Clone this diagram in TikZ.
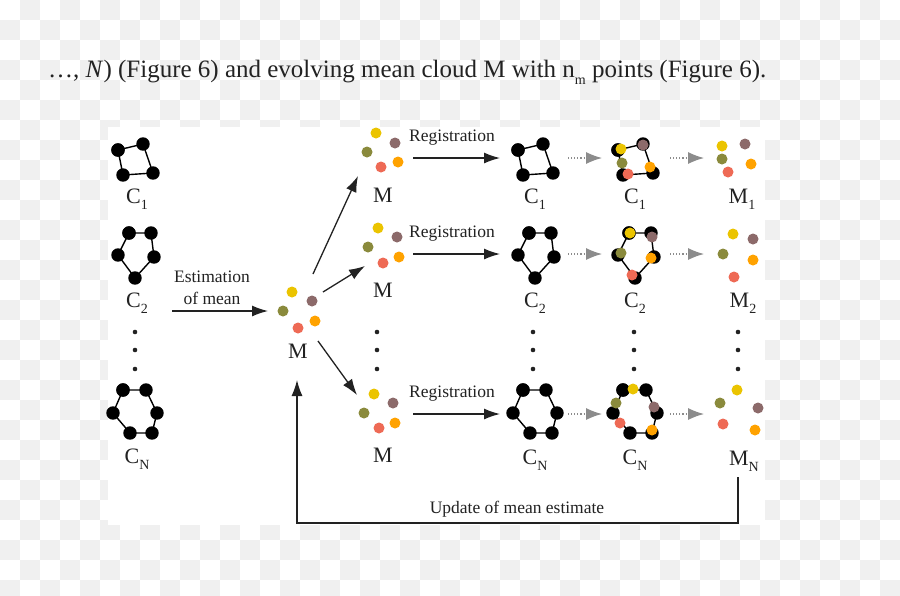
\documentclass[tikz,border=0pt]{standalone}
\usepackage{fontspec}
\setmainfont{Liberation Serif}
\usetikzlibrary{arrows.meta}
\definecolor{ink}{HTML}{222222}
\definecolor{chk}{HTML}{F0F0F0}
\definecolor{ptyellow}{HTML}{EBC400}
\definecolor{ptbrown}{HTML}{8C6A6A}
\definecolor{ptolive}{HTML}{8A8A3C}
\definecolor{ptorange}{HTML}{FFA200}
\definecolor{ptred}{HTML}{EE6A55}
\definecolor{dotgray}{HTML}{8C8C8C}
% lowered subscript
\newcommand{\lowsub}[1]{\raisebox{-0.3em}{\fontsize{14}{14}\selectfont #1}}
% five points of a cloud: yellow, brown, olive, orange, red
\newcommand{\ptcloud}[5]{%
  \fill[ptyellow] #1 circle (5.5);
  \fill[ptbrown] #2 circle (5.5);
  \fill[ptolive] #3 circle (5.5);
  \fill[ptorange] #4 circle (5.5);
  \fill[ptred] #5 circle (5.5);}
% closed contour with black points
\newcommand{\contour}[1]{%
  \draw[ringline] plot[mark=*,mark size=6pt,mark options={solid,fill=black,draw=black}] coordinates {#1};}
\newcommand{\sqpts}{(118,150) (143,144) (153,173) (123,175) (118,150)}
\newcommand{\pentpts}{(129,233) (151,233) (154,257) (135,278) (118,255) (129,233)}
\newcommand{\hexpts}{(123,390) (146,390) (157,413) (152,433) (130,433) (113,413) (123,390)}
\begin{document}
\begin{tikzpicture}[x=1pt,y=-1pt]
\tikzstyle{lbl}=[text=ink,font=\fontsize{22}{22}\selectfont,anchor=base,inner sep=0pt]
\tikzstyle{txt}=[text=ink,font=\fontsize{17.5}{22}\selectfont,inner sep=0pt,align=center]
\tikzstyle{arr}=[draw=ink,line width=1.3pt,-{Latex[length=16pt,width=11pt]}]
\tikzstyle{grayarr}=[draw=dotgray,dotted,line width=1.1pt,-{Latex[length=16pt,width=12pt]}]
\tikzstyle{ringline}=[draw=black,line width=1.4pt]
\tikzstyle{back}=[draw=ink,line width=1.3pt]
\clip (0,0) rectangle (900,595);
% checkered background
\foreach \i in {0,...,44} \foreach \j in {0,...,29} {
  \pgfmathtruncatemacro{\odd}{mod(\i+\j,2)}
  \ifnum\odd=1 \fill[chk] (\i*20,\j*20) rectangle ++(20,20); \fi}
\fill[white] (108,127) rectangle (765,525);
\node[anchor=base west,text=ink,font=\fontsize{25}{25}\selectfont,inner sep=0pt] (caption) at (48,77)
  {\dots, \textit{N}) (Figure 6) and evolving mean cloud M with n\lowsub{m} points (Figure 6).};

% input contours
\contour{\sqpts}
\contour{\pentpts}
\contour{\hexpts}
\node[lbl] (c1) at (137,203) {C\lowsub{1}};
\node[lbl] (c2) at (137,307) {C\lowsub{2}};
\node[lbl] (cn) at (137,463) {C\lowsub{N}};

% mean estimate
\ptcloud{(292,292)}{(312,301)}{(283,311)}{(315,321)}{(298,328)}
\node[lbl] (m0) at (298,358) {M};
\coordinate (est-in) at (172,311);
\coordinate (m0-w) at (268,311);
\node[txt] (esttext) at (212,288) {Estimation\\of mean};
\draw[arr] (est-in) -- (m0-w);

% copies of M
\ptcloud{(376,133)}{(395,143)}{(367,152)}{(398,162)}{(381,167)}
\ptcloud{(378,228)}{(397,237)}{(368,247)}{(399,257)}{(383,263)}
\ptcloud{(374,394)}{(393,403)}{(364,413)}{(395,423)}{(379,428)}
\node[lbl] (m1) at (383,202) {M};
\node[lbl] (m2) at (383,297) {M};
\node[lbl] (mn) at (383,462) {M};
\coordinate (m0-n) at (313,274);
\coordinate (m0-ne) at (323,292);
\coordinate (m0-se) at (318,341);
\coordinate (m1-sw) at (358,176);
\coordinate (m2-sw) at (365,266);
\coordinate (mn-nw) at (357,395);
\draw[arr] (m0-n) -- (m1-sw);
\draw[arr] (m0-ne) -- (m2-sw);
\draw[arr] (m0-se) -- (mn-nw);

% registration
\foreach \r/\y in {1/158,2/254,n/414} {
  \coordinate (reg\r-a) at (413,\y);
  \coordinate (reg\r-b) at (500,\y);
  \node[txt] (regtext\r) at (452,\y-20) {Registration};
  \draw[arr] (reg\r-a) -- (reg\r-b);
  \coordinate (dot\r-a) at (568,\y);
  \coordinate (dot\r-b) at (602,\y);
  \coordinate (dot\r-c) at (670,\y);
  \coordinate (dot\r-d) at (704,\y);
  \draw[grayarr] (dot\r-a) -- (dot\r-b);
  \draw[grayarr] (dot\r-c) -- (dot\r-d);
}

% contours to register
\begin{scope}[shift={(400,0)}]
\contour{\sqpts}
\contour{\pentpts}
\contour{\hexpts}
\end{scope}
\node[lbl] (d1) at (535,203) {C\lowsub{1}};
\node[lbl] (d2) at (535,307) {C\lowsub{2}};
\node[lbl] (dn) at (535,464) {C\lowsub{N}};

% registered contours
\begin{scope}[shift={(500,0)}]
\contour{\sqpts}
\contour{\pentpts}
\contour{\hexpts}
\end{scope}
\ptcloud{(621,149)}{(643,145)}{(622,163)}{(650,167)}{(628,174)}
\ptcloud{(630,233)}{(652,237)}{(621,253)}{(651,258)}{(632,275)}
\ptcloud{(633,389)}{(654,407)}{(616,403)}{(652,430)}{(620,423)}
\node[lbl] (e1) at (635,203) {C\lowsub{1}};
\node[lbl] (e2) at (635,307) {C\lowsub{2}};
\node[lbl] (en) at (635,464) {C\lowsub{N}};

% evolving means
\ptcloud{(722,146)}{(745,144)}{(722,159)}{(751,164)}{(728,172)}
\ptcloud{(733,234)}{(753,239)}{(723,254)}{(753,260)}{(734,277)}
\ptcloud{(737,390)}{(758,408)}{(720,403)}{(755,430)}{(723,424)}
\node[lbl] (f1) at (742,203) {M\lowsub{1}};
\node[lbl] (f2) at (743,307) {M\lowsub{2}};
\node[lbl] (fn) at (744,465) {M\lowsub{N}};

% vertical dots
\foreach \x in {135,377,533,634,738}
  \foreach \y in {332,350,369}
    \fill[ink] (\x,\y) circle (2.3);

% update of mean
\coordinate (fn-s) at (738,477);
\coordinate (m0-s) at (297,380);
\draw[back,-{Latex[length=16pt,width=11pt]}] (fn-s) |- (297,523) -- (m0-s);
\node[txt] (updtext) at (517,509) {Update of mean estimate};
\end{tikzpicture}
\end{document}
